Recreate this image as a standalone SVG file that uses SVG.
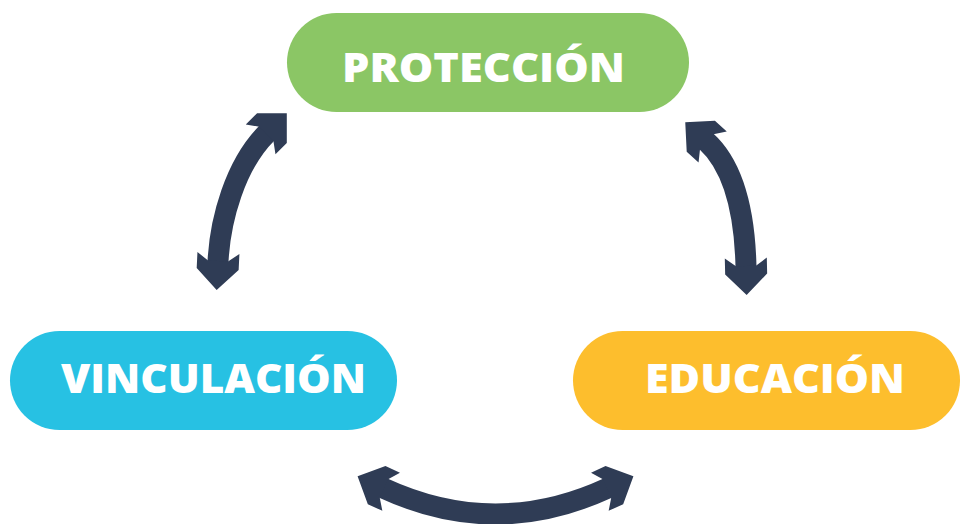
<svg xmlns="http://www.w3.org/2000/svg" width="962" height="524" viewBox="0 0 962 524">
  <style>
    .lbl { font-family: "Open Sans", "Liberation Sans", sans-serif; font-weight: 800; font-size: 40px; fill: #ffffff; }
    .conn { fill: none; stroke: #2f3c55; stroke-width: 21; stroke-linecap: butt; }
  </style>
  <defs>
    <marker id="head" markerUnits="userSpaceOnUse" orient="auto-start-reverse" refX="0" refY="0" markerWidth="80" markerHeight="80" viewBox="-40 -40 80 80" overflow="visible">
      <polygon points="28,0 7,-21 -9,-21 -1,-10 -1,10 -9,21 7,21" fill="#2f3c55"/>
    </marker>
  </defs>
  <rect width="962" height="524" fill="#ffffff"/>

  <g id="connectors">
    <path class="conn" d="M218,262 C220,220 235,165 267,133" marker-start="url(#head)" marker-end="url(#head)"/>
    <path class="conn" d="M746,267 C745,223 738,170 706,141" marker-start="url(#head)" marker-end="url(#head)"/>
    <path class="conn" d="M383,488 Q495.5,540 608,488" marker-start="url(#head)" marker-end="url(#head)"/>
  </g>

  <g id="proteccion">
    <rect x="287" y="13" width="402" height="99" rx="49.5" fill="#8bc665"/>
    <text class="lbl" x="342" y="82" textLength="283" lengthAdjust="spacingAndGlyphs">PROTECCIÓN</text>
  </g>

  <g id="vinculacion">
    <rect x="10" y="331" width="387" height="99" rx="49.5" fill="#27c1e3"/>
    <text class="lbl" x="61" y="393" textLength="305" lengthAdjust="spacingAndGlyphs">VINCULACIÓN</text>
  </g>

  <g id="educacion">
    <rect x="573" y="331" width="387" height="99" rx="49.5" fill="#fdbe2d"/>
    <text class="lbl" x="645" y="393" textLength="260" lengthAdjust="spacingAndGlyphs">EDUCACIÓN</text>
  </g>
</svg>
